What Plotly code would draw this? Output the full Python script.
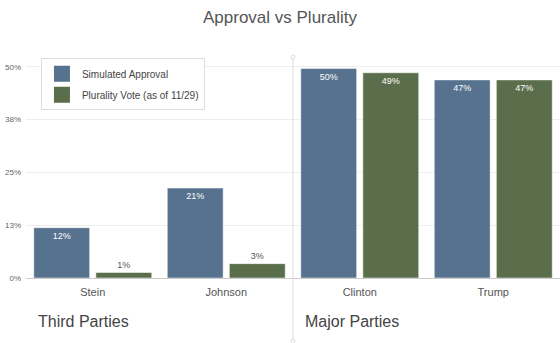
import plotly.graph_objects as go

candidates = ["Stein", "Johnson", "Clinton", "Trump"]
approval = [11.9, 21.3, 49.6, 46.9]
plurality = [1.3, 3.4, 48.6, 46.9]
tick_vals = [0, 12.5, 25, 37.5, 50]
tick_text = ["0%", "13%", "25%", "38%", "50%"]
series_names = ["Simulated Approval", "Plurality Vote (as of 11/29)"]
group_labels = ["Third Parties", "Major Parties"]

BLUE = "#56728e"
GREEN = "#5a6e4b"
FONT = "Liberation Sans"

fig = go.Figure()
for name, vals, col in [(series_names[0], approval, BLUE), (series_names[1], plurality, GREEN)]:
    fig.add_trace(go.Bar(
        x=candidates, y=vals, name=name, showlegend=False, legendgroup=name,
        marker=dict(color=col, line=dict(color="white", width=0.5)),
        texttemplate="%{y:.0f}%", textposition="auto",
        insidetextanchor="end",
        insidetextfont=dict(color="white", size=9, family=FONT),
        outsidetextfont=dict(color="#555", size=9, family=FONT),
        textangle=0, cliponaxis=False,
    ))
for name, col in [(series_names[0], BLUE), (series_names[1], GREEN)]:
    fig.add_trace(go.Scatter(
        x=[None], y=[None], mode="markers", name=name, legendgroup=name,
        marker=dict(symbol="square", size=16, color=col),
    ))

fig.update_layout(
    width=560, height=343,
    margin=dict(l=26, r=0, t=55, b=65),
    paper_bgcolor="white", plot_bgcolor="white",
    font=dict(family=FONT, color="#555"),
    title=dict(text="Approval vs Plurality", x=0.5, xanchor="center", y=1 - 17 / 343, yanchor="middle",
               font=dict(size=17, color="#555", family=FONT)),
    barmode="group", bargap=0.07, bargroupgap=0.1,
    showlegend=True,
    legend=dict(x=0.028, y=0.985, xanchor="left", yanchor="top",
                bgcolor="white", bordercolor="#ddd", borderwidth=1,
                itemsizing="trace", itemwidth=30, tracegroupgap=2,
                font=dict(size=10, color="#444", family=FONT)),
)
fig.update_xaxes(showgrid=False, showline=True, linecolor="#ccc", linewidth=1,
                 tickfont=dict(size=11, color="#555", family=FONT), ticks="",
                 ticklabelstandoff=4, range=[-0.5, 3.5])
fig.update_yaxes(range=[0, 52.8], tickvals=tick_vals, ticktext=tick_text,
                 showgrid=True, gridcolor="#eeeeee", zeroline=False,
                 tickfont=dict(size=8, color="#666", family=FONT), ticks="",
                 ticklabelstandoff=4)

# divider between groups
fig.add_shape(type="line", xref="x", yref="paper", x0=1.5, x1=1.5, y0=-0.283, y1=0.991,
              line=dict(color="#dddddd", width=1))
for yy in [0.991, -0.283]:
    fig.add_shape(type="circle", xref="x", yref="paper", xsizemode="pixel", ysizemode="pixel",
                  xanchor=1.5, yanchor=yy, x0=-2, x1=2, y0=-2, y1=2,
                  line=dict(color="#dddddd", width=1), fillcolor="white")

fig.add_annotation(text=group_labels[0], xref="paper", yref="paper", x=0.019, y=-0.197,
                   xanchor="left", yanchor="middle", showarrow=False,
                   font=dict(size=16, color="#444", family=FONT))
fig.add_annotation(text=group_labels[1], xref="paper", yref="paper", x=0.519, y=-0.197,
                   xanchor="left", yanchor="middle", showarrow=False,
                   font=dict(size=16, color="#444", family=FONT))

fig.write_html("out.html")
